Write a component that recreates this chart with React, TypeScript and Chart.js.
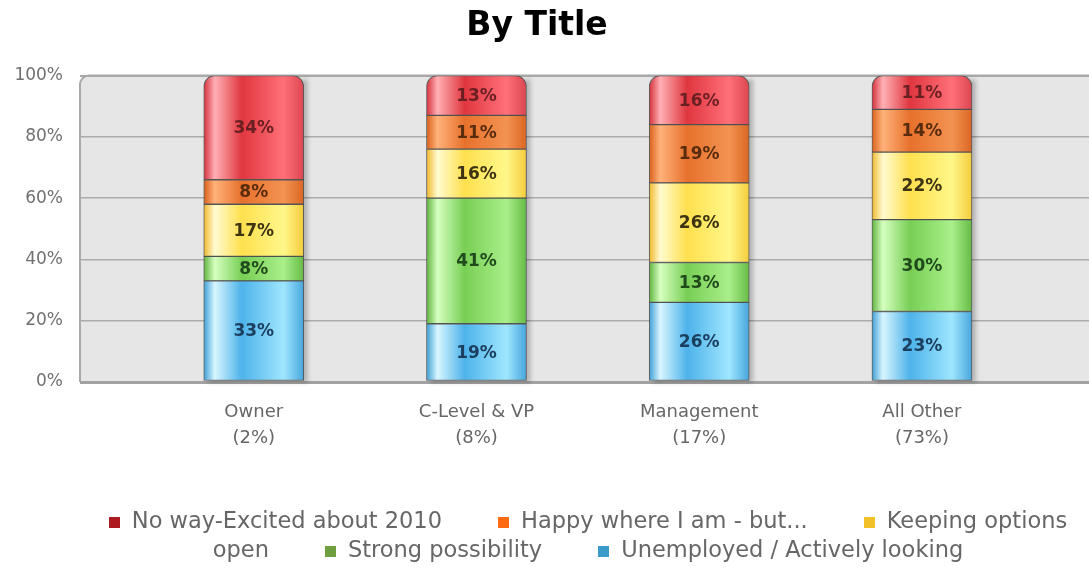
import React, { useEffect, useRef } from 'react';
import { Chart, registerables } from 'chart.js';

Chart.register(...registerables);

// ---------- data ----------
const categories = ['Owner', 'C-Level & VP', 'Management', 'All Other'];
const categoryShares = ['(2%)', '(8%)', '(17%)', '(73%)'];

// stacked bottom -> top
const seriesNames = [
  'Unemployed / Actively looking',
  'Strong possibility',
  'Keeping options open',
  'Happy where I am - but...',
  'No way-Excited about 2010',
];
const unemployed = [33, 19, 26, 23];
const strongPossibility = [8, 41, 13, 30];
const keepingOptions = [17, 16, 26, 22];
const happyBut = [8, 11, 19, 14];
const noWay = [34, 13, 16, 11];
const seriesValues = [unemployed, strongPossibility, keepingOptions, happyBut, noWay];

// ---------- styles ----------
const FONT = '"DejaVu Sans", "Liberation Sans", Arial, sans-serif';
const BAR_THICKNESS = 100;
const CANVAS_SHIFT = 15; // canvas extends left of the page so the title centres like the original
const legendColors = ['#3a9bcb', '#6f9f3f', '#f2c12a', '#ff6a13', '#ad1a1f'];
const labelColors = ['#1c3f60', '#214a1c', '#3d3312', '#5a2c0e', '#6a1f22'];
const stopPositions = [0, 0.11, 0.38, 0.8, 1];
const gradientStops = [
  ['#3f9fd6', '#d8f6ff', '#4db3ea', '#9fe6ff', '#46a6dc'],
  ['#5fb43e', '#d6ffc0', '#78cf55', '#a9ef8a', '#66bb46'],
  ['#f0b82c', '#fffbd0', '#ffe04e', '#fff78a', '#f5cc3b'],
  ['#d9601b', '#ffb27a', '#e7712c', '#f39352', '#db6622'],
  ['#d42f3a', '#ffb0b5', '#e0363f', '#ff7078', '#dc4650'],
];

function makeFill(si: number) {
  return (c: any) => {
    const stops = gradientStops[si];
    const chart = c.chart;
    if (c.type !== 'data' || !chart.chartArea || !chart.scales.x) return stops[2];
    const cx = chart.scales.x.getPixelForValue(c.dataIndex);
    const g = chart.ctx.createLinearGradient(cx - BAR_THICKNESS / 2, 0, cx + BAR_THICKNESS / 2, 0);
    stopPositions.forEach((p, k) => g.addColorStop(p, stops[k]));
    return g;
  };
}

const plotBackground = {
  id: 'plotBackground',
  beforeDraw(chart: any) {
    const { ctx, chartArea: a } = chart;
    const r = 9;
    ctx.save();
    ctx.beginPath();
    ctx.moveTo(a.left, a.bottom);
    ctx.lineTo(a.left, a.top + r);
    ctx.arcTo(a.left, a.top, a.left + r, a.top, r);
    ctx.lineTo(a.right, a.top);
    ctx.lineTo(a.right, a.bottom);
    ctx.closePath();
    ctx.fillStyle = '#e6e6e6';
    ctx.fill();
    ctx.beginPath();
    ctx.moveTo(a.left, a.bottom);
    ctx.lineTo(a.left, a.top + r);
    ctx.arcTo(a.left, a.top, a.left + r, a.top, r);
    ctx.lineTo(a.right, a.top);
    ctx.strokeStyle = '#a9a9a9';
    ctx.lineWidth = 2;
    ctx.stroke();
    ctx.restore();
  },
};

const barShadow = {
  id: 'barShadow',
  beforeDatasetsDraw(chart: any) {
    const { ctx } = chart;
    const n = chart.data.datasets.length;
    const bottomMeta = chart.getDatasetMeta(0);
    const topMeta = chart.getDatasetMeta(n - 1);
    ctx.save();
    ctx.filter = 'blur(2px)';
    ctx.fillStyle = 'rgba(0,0,0,0.22)';
    bottomMeta.data.forEach((el: any, j: number) => {
      const b = el.getProps(['x', 'base', 'width'], true);
      const t = topMeta.data[j].getProps(['y'], true);
      ctx.fillRect(b.x - b.width / 2 + 4, t.y + 4, b.width, b.base - t.y - 2);
    });
    ctx.restore();
  },
};

const barLabels = {
  id: 'barLabels',
  afterDatasetsDraw(chart: any) {
    const { ctx } = chart;
    ctx.save();
    ctx.font = `bold 17px ${FONT}`;
    ctx.textAlign = 'center';
    ctx.textBaseline = 'middle';
    chart.data.datasets.forEach((ds: any, i: number) => {
      const meta = chart.getDatasetMeta(i);
      meta.data.forEach((el: any, j: number) => {
        const p = el.getProps(['x', 'y', 'base'], true);
        ctx.fillStyle = labelColors[i];
        ctx.fillText(seriesValues[i][j] + '%', p.x, (p.y + p.base) / 2 + 1);
      });
    });
    ctx.restore();
  },
};

export default function App() {
  const canvasRef = useRef<HTMLCanvasElement | null>(null);

  useEffect(() => {
    const canvas = canvasRef.current;
    if (!canvas) return;
    const n = seriesValues.length;
    const datasets = seriesValues.map((vals, si) => ({
      label: seriesNames[si],
      data: vals.map((v, j) => ({ x: j, y: v })),
      backgroundColor: makeFill(si),
      borderColor: 'rgba(70,70,70,0.85)',
      borderWidth: 1,
      borderSkipped: false,
      borderRadius: si === n - 1
        ? { topLeft: 11, topRight: 11, bottomLeft: 0, bottomRight: 0 }
        : 0,
      barThickness: BAR_THICKNESS,
    }));

    const chart = new Chart(canvas, {
      type: 'bar',
      data: { datasets },
      plugins: [plotBackground, barShadow, barLabels],
      options: {
        responsive: false,
        animation: false,
        layout: { padding: { left: 0, right: 0, top: 0, bottom: 119 } },
        plugins: {
          legend: { display: false },
          tooltip: { enabled: false },
          title: {
            display: true,
            text: 'By Title',
            color: '#000',
            font: { family: FONT, size: 33, weight: 'bold' },
            padding: { top: 7, bottom: 29 },
          },
        },
        scales: {
          x: {
            type: 'linear',
            stacked: true,
            offset: false,
            min: -0.78,
            max: 3.75,
            grid: { display: false, offset: false },
            border: { display: false },
            afterFit: (s: any) => {
              s.height = 70;
              s.paddingLeft = 0;
              s.paddingRight = 0;
            },
            ticks: {
              stepSize: 1,
              autoSkip: false,
              maxRotation: 0,
              padding: 9,
              color: '#666',
              font: { family: FONT, size: 18, lineHeight: 1.45 },
              callback: (v: any) =>
                Number.isInteger(v) && categories[v] ? [categories[v], categoryShares[v]] : '',
            },
          },
          y: {
            stacked: true,
            min: 0,
            max: 100,
            border: { display: false },
            afterFit: (s: any) => { s.width = 80 + CANVAS_SHIFT; },
            grid: {
              drawTicks: false,
              color: (c: any) => (c.tick && c.tick.value === 0 ? '#a2a2a2' : c.tick && c.tick.value === 100 ? '#a9a9a9' : '#ababab'),
              lineWidth: (c: any) => (c.tick && c.tick.value === 0 ? 3 : c.tick && c.tick.value === 100 ? 2 : 1.5),
            },
            ticks: {
              stepSize: 20,
              padding: 17,
              color: '#707070',
              font: { family: FONT, size: 17 },
              callback: (v: any) => v + '%',
            },
          },
        },
      } as any,
    });
    return () => chart.destroy();
  }, []);

  const legendOrder = seriesNames.map((_, i) => i).reverse();

  return (
    <div style={{ position: 'absolute', left: 0, top: 0, width: 1089, height: 571, background: '#fff', overflow: 'hidden' }}>
      <canvas
        ref={canvasRef}
        width={1089 + CANVAS_SHIFT}
        height={571}
        style={{ display: 'block', position: 'absolute', left: -CANVAS_SHIFT, top: 0 }}
      />
      <div
        style={{
          position: 'absolute',
          left: 88,
          top: 506,
          width: 1000,
          textAlign: 'center',
          fontFamily: FONT,
          fontSize: 22.5,
          lineHeight: '29px',
          color: '#666',
        }}
      >
        {legendOrder.map((si, k) => (
          <React.Fragment key={si}>
            {k > 0 && <span style={{ display: 'inline-block', width: 56 }} />}
            <span
              style={{
                display: 'inline-block',
                width: 11,
                height: 11,
                marginRight: 12,
                background: legendColors[si],
              }}
            />
            {seriesNames[si]}
          </React.Fragment>
        ))}
      </div>
    </div>
  );
}
